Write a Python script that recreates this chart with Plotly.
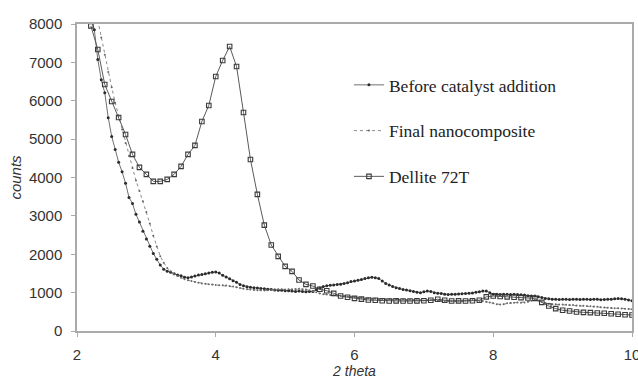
import numpy as np
import plotly.graph_objects as go

# Before catalyst addition: 2theta from 2.20 to 10.00, step 0.05
before_start, before_step = 2.20, 0.05
before_counts = [
    8150, 7850, 7075, 6550, 6210, 5560, 5070, 4730, 4400, 4150,
    3850, 3480, 3320, 3040, 2840, 2600, 2400, 2210, 2020, 1870,
    1720, 1610, 1560, 1530, 1490, 1460, 1440, 1400, 1390, 1410,
    1430, 1460, 1475, 1490, 1510, 1530, 1540, 1510, 1450, 1410,
    1360, 1310, 1270, 1210, 1180, 1150, 1140, 1130, 1120, 1110,
    1100, 1090, 1080, 1070, 1060, 1060, 1050, 1050, 1040, 1030,
    1040, 1030, 1020, 1030, 1030, 1080, 1120, 1160, 1180, 1190,
    1200, 1210, 1220, 1240, 1260, 1290, 1300, 1320, 1340, 1370,
    1390, 1400, 1390, 1370, 1300, 1240, 1200, 1160, 1130, 1110,
    1080, 1070, 1050, 1030, 1010, 1000, 1020, 1040, 1030, 1000,
    985, 980, 960, 950, 955, 960, 965, 970, 980, 985,
    990, 1010, 1020, 1040, 1045, 1000, 960, 955, 950, 960,
    955, 950, 955, 950, 945, 935, 920, 915, 910, 890,
    870, 850, 840, 830, 825, 820, 830, 825, 820, 830,
    825, 820, 830, 825, 820, 830, 825, 815, 820, 825,
    830, 840, 845, 840, 830, 810, 790,
]

# Final nanocomposite: 2theta from 2.30 to 10.00, step 0.05
final_start, final_step = 2.30, 0.05
final_counts = [
    8100, 7650, 7200, 6750, 6350, 5950, 5600, 5250, 4900, 4560,
    4250, 3920, 3650, 3380, 3100, 2800, 2480, 2200, 1950, 1780,
    1640, 1560, 1480, 1430, 1390, 1350, 1320, 1300, 1280, 1260,
    1240, 1230, 1220, 1210, 1200, 1195, 1190, 1185, 1175, 1160,
    1140, 1120, 1100, 1090, 1080, 1070, 1065, 1060, 1055, 1060,
    1070, 1080, 1085, 1090, 1080, 1085, 1090, 1095, 1100, 1090,
    1080, 1060, 1040, 1010, 980, 960, 950, 940, 930, 920,
    920, 910, 900, 890, 880, 870, 860, 850, 850, 840,
    840, 835, 830, 830, 825, 820, 820, 815, 815, 810,
    810, 805, 800, 800, 795, 800, 805, 800, 790, 785,
    780, 780, 775, 780, 785, 780, 790, 800, 810, 800,
    790, 780, 760, 740, 720, 700, 690, 700, 720, 730,
    735, 740, 735, 740, 760, 790, 810, 790, 760, 730,
    710, 700, 695, 690, 690, 685, 680, 675, 665, 660,
    655, 650, 645, 640, 630, 620, 610, 605, 600, 595,
    590, 585, 580, 575, 570,
]

# Dellite 72T: 2theta from 2.2 to 10.0, step 0.1
dellite_start, dellite_step = 2.2, 0.1
dellite_counts = [
    7950, 7336, 6424, 5982, 5565, 5122, 4602, 4263, 4081, 3898,
    3898, 3950, 4081, 4289, 4602, 4836, 5461, 5878, 6633, 7050,
    7414, 6893, 5695, 4471, 3560, 2760, 2240, 1945, 1685, 1555,
    1328, 1216, 1172, 1086, 1050, 980, 911, 880, 850, 830,
    807, 800, 790, 781, 785, 780, 781, 785, 790, 800,
    826, 800, 781, 785, 781, 790, 800, 890, 911, 900,
    890, 880, 870, 860, 850, 747, 650, 583, 540, 521,
    495, 485, 479, 470, 461, 450, 435, 425, 417,
]

series_names = ["Before catalyst addition", "Final nanocomposite", "Dellite 72T"]
x_ticks = [2, 4, 6, 8, 10]
y_ticks = [0, 1000, 2000, 3000, 4000, 5000, 6000, 7000, 8000]


def grid(start, step, n):
    return np.round(start + step * np.arange(n), 3)


fig = go.Figure()
fig.add_trace(go.Scatter(
    x=grid(before_start, before_step, len(before_counts)), y=before_counts,
    name=series_names[0], mode="lines+markers", legendgroup="a",
    line=dict(color="#707070", width=1),
    marker=dict(symbol="circle", size=3, color="#2a2a2a"),
))
fig.add_trace(go.Scatter(
    x=grid(final_start, final_step, len(final_counts)), y=final_counts,
    name=series_names[1], mode="lines+markers", legendgroup="b",
    line=dict(color="#8a8a8a", width=1, dash="dot"),
    marker=dict(symbol="circle", size=2, color="#666666"),
))
fig.add_trace(go.Scatter(
    x=grid(dellite_start, dellite_step, len(dellite_counts)), y=dellite_counts,
    name=series_names[2], mode="lines+markers", legendgroup="c",
    line=dict(color="#5a5a5a", width=1),
    marker=dict(symbol="square-open", size=4.5, color="#3a3a3a",
                line=dict(width=1.1, color="#3a3a3a")),
))

sans = "Liberation Sans, Arial, sans-serif"
axis_font = dict(family=sans, size=15, color="#333333")
fig.update_layout(
    width=638, height=382,
    margin=dict(l=77, r=6, t=24, b=51),
    paper_bgcolor="white", plot_bgcolor="white",
    showlegend=True,
    legend=dict(
        x=0.49, y=0.86, xanchor="left", yanchor="top",
        bgcolor="rgba(0,0,0,0)",
        font=dict(family="Liberation Serif, Times New Roman, serif", size=17.5, color="#222222"),
        traceorder="grouped", tracegroupgap=20,
    ),
)
fig.update_xaxes(
    range=[2, 10], tickvals=x_ticks, ticktext=[str(v) for v in x_ticks],
    showgrid=False, zeroline=False, automargin=False,
    showline=True, linecolor="#aaaaaa", linewidth=1.5, mirror=True,
    ticks="outside", ticklen=4, tickcolor="#aaaaaa",
    tickfont=axis_font, ticklabelstandoff=5, ticklabeloverflow="allow",
    title=dict(text="<i>2 theta</i>", font=dict(family=sans, size=14, color="#333333"), standoff=2),
)
fig.update_yaxes(
    range=[0, 8000], tickvals=y_ticks, ticktext=[str(v) for v in y_ticks],
    showgrid=False, zeroline=False, automargin=False,
    showline=True, linecolor="#aaaaaa", linewidth=1.5, mirror=True,
    ticks="outside", ticklen=4, tickcolor="#aaaaaa",
    tickfont=axis_font, ticklabelstandoff=6,
    title=dict(text="<i>counts</i>", font=dict(family=sans, size=15, color="#333333"), standoff=4),
)

fig.write_html("out.html")
